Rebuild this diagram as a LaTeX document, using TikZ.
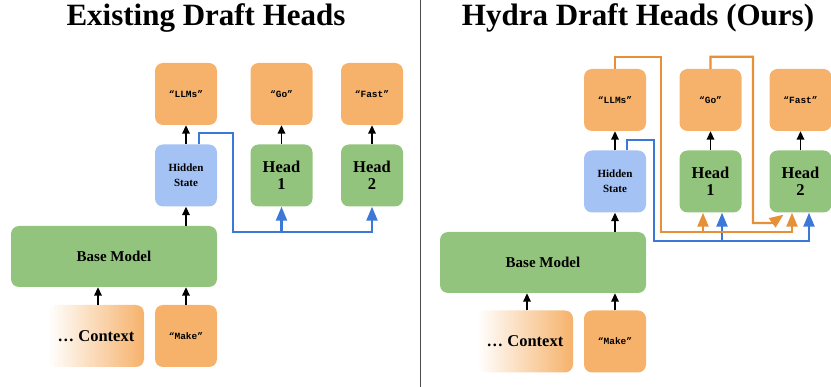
\documentclass[tikz,border=0pt]{standalone}
\usepackage{fontspec}
\setmainfont{Liberation Serif}
\setmonofont{Liberation Mono}
\usetikzlibrary{arrows.meta}
\definecolor{tokorange}{HTML}{F6B26B}
\definecolor{boxgreen}{HTML}{93C47D}
\definecolor{boxblue}{HTML}{A4C2F4}
\definecolor{lineblue}{HTML}{3C78D8}
\definecolor{lineorange}{HTML}{E69138}
\begin{document}
\begin{tikzpicture}[x=1pt,y=-1pt,
    box/.style={rounded corners=8pt,minimum width=62pt,minimum height=62pt,inner sep=2pt,align=center},
    tok/.style={box,fill=tokorange,font=\ttfamily\bfseries\fontsize{9.5}{11}\selectfont},
    head/.style={box,fill=boxgreen,font=\bfseries\fontsize{16.5}{17}\selectfont},
    hid/.style={box,fill=boxblue,font=\bfseries\fontsize{11}{15}\selectfont},
    base/.style={box,fill=boxgreen,minimum width=206pt,minimum height=61pt,font=\bfseries\fontsize{15}{17}\selectfont},
    ctx/.style={box,left color=white,right color=tokorange,minimum width=96pt,font=\bfseries\fontsize{16.5}{17}\selectfont},
    up/.style={line width=1.7pt,-{Triangle[length=8.5pt,width=7.5pt]}},
    bline/.style={lineblue,line width=2.3pt,-{Triangle[length=14pt,width=11pt]}},
    oline/.style={lineorange,line width=2.3pt,-{Triangle[length=14pt,width=11pt]}},
    title/.style={anchor=base,font=\bfseries\fontsize{31}{31}\selectfont}]
  \useasboundingbox (0,0) rectangle (831,387);

  % divider
  \draw[gray!60!black,line width=0.8pt] (420,0) -- (420,387);

  % left: existing draft heads
  \node[title] (t1) at (206,26) {Existing Draft Heads};
  \node[base] (base1) at (114,256.5) {Base Model};
  \node[ctx] (ctx1) at (96,336) {… Context};
  \node[tok] (make1) at (186,336) {“Make”};
  \node[hid] (hid1) at (186,175.5) {Hidden\\State};
  \node[tok] (llm1) at (186,94) {“LLMs”};
  \foreach \i/\x/\w in {1/281.5/Go, 2/372/Fast} {
    \node[head] (h1\i) at (\x,175.5) {Head\\\i};
    \node[tok] (w1\i) at (\x,94) {“\w”};
    \draw[up] (h1\i) -- (w1\i);
  }
  \draw[up] ([xshift=2pt]ctx1.north) -- ([xshift=2pt]ctx1.north |- base1.south);
  \draw[up] (make1.north) -- (make1.north |- base1.south);
  \draw[up] (hid1.south |- base1.north) -- (hid1);
  \draw[up] (hid1) -- (llm1);
  % hidden state to heads
  \coordinate (jb1) at (281.5,232);
  \draw[bline] ([xshift=13pt]hid1.north) -- ++(0,-11) -| (233,232) -| (h12.south);
  \draw[bline] (jb1) -- (jb1 |- h11.south);

  % right: hydra draft heads
  \node[title] (t2) at (638,26) {Hydra Draft Heads (Ours)};
  \node[base] (base2) at (543,262.5) {Base Model};
  \node[ctx] (ctx2) at (525,341.5) {… Context};
  \node[tok] (make2) at (615,341.5) {“Make”};
  \node[hid] (hid2) at (615,181.5) {Hidden\\State};
  \node[tok] (llm2) at (615,100) {“LLMs”};
  \foreach \i/\x/\w in {1/710.5/Go, 2/800.5/Fast} {
    \node[head] (h2\i) at (\x,181.5) {Head\\\i};
    \node[tok] (w2\i) at (\x,100) {“\w”};
    \draw[up] (h2\i) -- (w2\i);
  }
  \draw[up] ([xshift=2pt]ctx2.north) -- ([xshift=2pt]ctx2.north |- base2.south);
  \draw[up] (make2.north) -- (make2.north |- base2.south);
  \draw[up] (hid2.south |- base2.north) -- (hid2);
  \draw[up] (hid2) -- (llm2);
  % hidden state to heads
  \coordinate (jb2) at (722,241);
  \draw[bline] ([xshift=12pt]hid2.north) -- ++(0,-10) -| (654,241) -| ([xshift=8.5pt]h22.south);
  \draw[bline] (jb2) -- (jb2 |- h21.south);
  % drafted tokens to later heads
  \coordinate (jo2) at (703,232);
  \draw[oline] (llm2.north) -- ++(0,-12) -| (661,232) -| ([xshift=-8.5pt]h22.south);
  \draw[oline] (jo2) -- (jo2 |- h21.south);
  \draw[oline] (w21.north) -- ++(0,-12) -| (753,223) -- ++(19,0) -- ([xshift=-17pt,yshift=-2pt]h22.south);
\end{tikzpicture}
\end{document}
